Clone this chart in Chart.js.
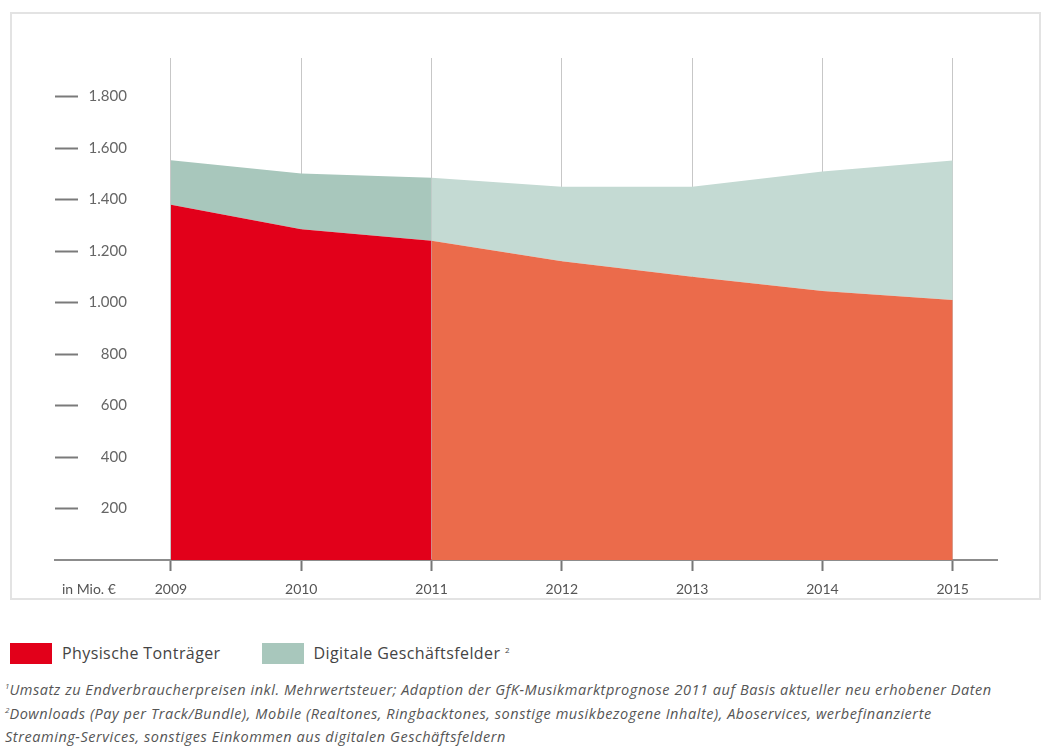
<!DOCTYPE html>
<html lang="de">
<head>
  <meta charset="UTF-8">
  <title>Umsatz Musikmarkt Deutschland</title>
  <script src="https://cdn.jsdelivr.net/npm/chart.js"></script>
  <style>
    body { margin: 0; background: #fff; width: 1041px; height: 749px; position: relative; overflow: hidden; font-family: "Open Sans", Arial, sans-serif; }
    #frame { position: absolute; left: 10px; top: 12px; width: 1031px; height: 588px; border: 2px solid #e3e3e3; box-sizing: border-box; }
    #wrap { position: relative; width: 1027px; height: 584px; }
    #legend { position: absolute; left: 10px; top: 642px; display: flex; align-items: center; font-size: 16px; letter-spacing: 0.4px; color: #444; }
    #legend .item { display: flex; align-items: center; margin-right: 41px; }
    #legend .box { width: 42px; height: 21px; margin-right: 10px; }
    #notes { position: absolute; left: 5px; top: 678px; font-style: italic; font-size: 14.5px; letter-spacing: 0.55px; color: #555; line-height: 23.5px; white-space: nowrap; }
    sup { font-size: 8px; line-height: 0; vertical-align: 6px; letter-spacing: 0; }
  </style>
</head>
<body>
  <div id="frame"><div id="wrap"><canvas id="chart"></canvas></div></div>
  <div id="legend"></div>
  <div id="notes">
    <div><sup>1</sup>Umsatz zu Endverbraucherpreisen inkl. Mehrwertsteuer; Adaption der GfK-Musikmarktprognose 2011 auf Basis aktueller neu erhobener Daten</div>
    <div><sup>2</sup>Downloads (Pay per Track/Bundle), Mobile (Realtones, Ringbacktones, sonstige musikbezogene Inhalte), Aboservices, werbefinanzierte</div>
    <div>Streaming-Services, sonstiges Einkommen aus digitalen Geschäftsfeldern</div>
  </div>

  <script>
    // Umsatz in Mio. €, ab 2011 Prognose
    const years = [2009, 2010, 2011, 2012, 2013, 2014, 2015];
    const physisch = [1380, 1285, 1240, 1160, 1100, 1045, 1010];
    const digital = [173, 216, 245, 290, 350, 464, 542];
    const yTicks = [200, 400, 600, 800, 1000, 1200, 1400, 1600, 1800];
    const unitLabel = 'in Mio. €';
    const prognoseAb = 2011;

    const red = '#e2001a', orange = '#eb6b4b';
    const tealDark = '#a8c7bc', tealLight = '#c4dad3';

    const fmt = v => String(v).replace(/\B(?=(\d{3})+(?!\d))/g, '.');
    const pts = arr => arr.map((v, i) => ({ x: years[i], y: v }));

    // legend
    const legendItems = [
      { label: 'Physische Tonträger', color: red },
      { label: 'Digitale Geschäftsfelder <sup>2</sup>', color: tealDark }
    ];
    document.getElementById('legend').innerHTML = legendItems.map(it =>
      `<div class="item"><span class="box" style="background:${it.color}"></span><span>${it.label}</span></div>`).join('');

    Chart.defaults.font.family = 'Lato, "Open Sans", sans-serif';
    Chart.defaults.color = '#666';

    const keepTicks = scale => { scale.ticks = yTicks.map(v => ({ value: v })); };

    new Chart(document.getElementById('chart'), {
      type: 'line',
      data: {
        datasets: [{
          label: 'Physische Tonträger',
          data: pts(physisch),
          fill: 'origin',
          borderWidth: 0,
          pointRadius: 0,
          backgroundColor: red,
          segment: { backgroundColor: ctx => ctx.p0.parsed.x >= prognoseAb ? orange : red }
        }, {
          label: 'Digitale Geschäftsfelder',
          data: pts(digital),
          fill: '-1',
          borderWidth: 0,
          pointRadius: 0,
          backgroundColor: tealDark,
          segment: { backgroundColor: ctx => ctx.p0.parsed.x >= prognoseAb ? tealLight : tealDark }
        }]
      },
      options: {
        responsive: true,
        maintainAspectRatio: false,
        animation: false,
        layout: { padding: { left: 43, right: 42, top: 44, bottom: 2 } },
        plugins: { legend: { display: false }, tooltip: { enabled: false } },
        scales: {
          x: {
            type: 'linear',
            min: 2008.11,
            max: 2015.34,
            z: 1,
            afterBuildTicks: scale => {
              scale.ticks = [{ value: 2008.37 }].concat(years.map(v => ({ value: v })));
            },
            afterFit: scale => { scale.height = 36; },
            ticks: {
              autoSkip: false,
              maxRotation: 0,
              padding: 10,
              color: '#555',
              font: { size: 14 },
              callback: v => v < 2009 ? unitLabel : String(v)
            },
            grid: {
              color: ctx => ctx.tick && ctx.tick.value < 2009 ? 'rgba(0,0,0,0)' : 'rgba(0,0,0,0.22)',
              tickColor: ctx => ctx.tick && ctx.tick.value < 2009 ? 'rgba(0,0,0,0)' : '#777',
              tickLength: 11,
              tickWidth: 2
            },
            border: { display: true, color: '#8c8c8c', width: 2 }
          },
          y: {
            stacked: true,
            min: 0,
            max: 1950,
            position: { x: 2008.662 },
            afterBuildTicks: keepTicks,
            ticks: {
              autoSkip: false,
              padding: 0,
              color: '#666',
              font: { size: 15 },
              callback: v => fmt(v)
            },
            grid: { display: false },
            border: { display: false }
          },
          yDash: {
            axis: 'y',
            min: 0,
            max: 1950,
            position: { x: 2008.286 },
            afterBuildTicks: keepTicks,
            ticks: { display: false },
            grid: {
              drawOnChartArea: false,
              drawTicks: true,
              tickLength: 23,
              tickWidth: 2,
              tickColor: '#7a7a7a'
            },
            border: { display: false }
          }
        }
      }
    });
  </script>
</body>
</html>
